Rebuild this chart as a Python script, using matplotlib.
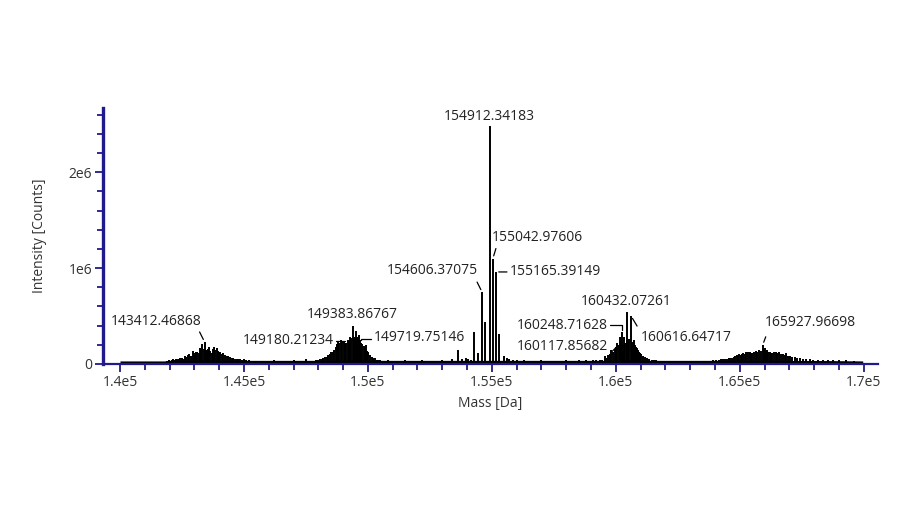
import numpy as np
import matplotlib
matplotlib.use("Agg")
import matplotlib.pyplot as plt
from matplotlib.ticker import MultipleLocator, FuncFormatter

plt.rcParams['font.family'] = ['Open Sans', 'DejaVu Sans']

# deconvoluted mass spectrum, sticks (Da, counts in 1e6)
c1_mass = [141900, 141960, 142020, 142080, 142140, 142200, 142260, 142320, 142380,
           142440, 142500, 142560, 142620, 142680, 142740, 142800, 142860, 142930,
           142980, 143020, 143070, 143120, 143170, 143230, 143280, 143320, 143370,
           143412, 143460, 143500, 143550, 143600, 143650, 143700, 143750, 143790,
           143840, 143900, 143950, 144000, 144050, 144100, 144160, 144230, 144300,
           144370, 144430, 144500, 144570, 144640, 144700, 144780, 144850, 144920,
           145000, 145100, 145200, 145300, 145400]
c1_int = [.035, .045, .03, .04, .05, .045, .05, .055, .05,
          .06, .065, .055, .08, .07, .09, .10, .08, .14,
          .11, .09, .12, .13, .11, .17, .15, .21, .16,
          .23, .15, .14, .16, .18, .14, .11, .16, .18,
          .15, .17, .14, .13, .12, .10, .11, .09, .085,
          .08, .075, .06, .065, .055, .05, .055, .05, .045,
          .05, .04, .04, .035, .035]

c2_mass = [146200, 147000, 147500,
           147700, 147800, 147900, 148000, 148065, 148130, 148200, 148270, 148330,
           148400, 148470, 148530, 148600, 148650, 148710, 148760, 148800, 148850,
           148900, 148960, 149030, 149070, 149110, 149180, 149230, 149270, 149320,
           149383, 149420, 149460, 149520, 149560, 149600, 149650, 149690, 149719,
           149780, 149840, 149880, 149920, 149970, 150010, 150080, 150150, 150220,
           150280, 150350, 150420]
c2_int = [.04, .045, .05,
          .035, .035, .04, .045, .05, .055, .06, .07, .075,
          .09, .10, .12, .13, .15, .18, .21, .23, .22,
          .25, .23, .24, .22, .22, .25, .24, .28, .27,
          .40, .26, .28, .34, .27, .28, .30, .25, .22,
          .21, .19, .17, .20, .14, .12, .09, .07, .065,
          .06, .045, .04]

c3_mass = [150500, 150800, 151500, 152200, 153000, 153400, 153641, 153800, 153950,
           154050, 154150,
           154286, 154423, 154606, 154740, 154912, 155042, 155165, 155282, 155484,
           155600, 155700, 155850, 156000, 156300, 157000, 158000, 158500, 158800]
c3_int = [.045, .04, .045, .04, .045, .05, .15, .05, .06,
          .05, .045,
          .33, .11, .75, .44, 2.48, 1.10, .96, .31, .08,
          .06, .05, .045, .045, .04, .04, .04, .045, .045]

c4_mass = [159080, 159200, 159355, 159450, 159556, 159620, 159690, 159760, 159825,
           159890, 159960, 160010, 160050, 160117, 160160, 160200, 160248, 160295,
           160350, 160390, 160432, 160470, 160500, 160545, 160616, 160660, 160700,
           160730, 160770, 160810, 160850, 160890, 160930, 160970, 161030, 161100,
           161170, 161240, 161340, 161440, 161540, 161640]
c4_int = [.04, .04, .045, .045, .08, .06, .09, .10, .15,
          .13, .16, .18, .22, .20, .28, .24, .33, .20,
          .28, .22, .545, .24, .22, .26, .50, .20, .23,
          .25, .20, .18, .17, .15, .13, .11, .10, .08,
          .07, .06, .05, .045, .045, .04]

c5_mass = [163800, 163920, 164050, 164150, 164250, 164320, 164400, 164480, 164550,
           164600, 164680, 164750, 164800, 164870, 164920, 164970, 165030, 165080,
           165130, 165200, 165270, 165330, 165400, 165450, 165510, 165580, 165650,
           165710, 165780, 165850, 165927, 165970, 166010, 166060, 166100, 166150,
           166210, 166260, 166320, 166380, 166450, 166520, 166590, 166660, 166750,
           166810, 166880, 166950, 167040, 167120, 167220, 167320, 167420, 167550,
           167690, 167820, 167960, 168150, 168370, 168550, 168770, 169000, 169300,
           169600]
c5_int = [.035, .04, .045, .045, .05, .05, .055, .05, .06,
          .06, .065, .07, .08, .09, .085, .10, .095, .10,
          .11, .10, .13, .12, .13, .11, .11, .12, .14,
          .12, .15, .14, .20, .16, .17, .14, .15, .12,
          .13, .11, .11, .12, .13, .11, .12, .10, .10,
          .09, .11, .085, .08, .075, .07, .065, .06, .055,
          .05, .05, .045, .045, .045, .04, .04, .04, .04,
          .035]

# noise floor under the sticks
noise_mass = [140000, 141800, 142000, 145500, 147700, 150300, 153500, 155300,
              159000, 161700, 163900, 168500, 169960]
noise_level = [.032, .032, .038, .038, .038, .038, .038, .038,
               .038, .038, .038, .036, .032]

# peak labels
labels = [
    "154912.34183", "155042.97606", "155165.39149", "154606.37075",
    "149719.75146", "149383.86767", "149180.21234", "143412.46868",
    "160432.07261", "160248.71628", "160117.85682", "160616.64717",
    "165927.96698",
]

mass = np.array(c1_mass + c2_mass + c3_mass + c4_mass + c5_mass, dtype=float)
intensity = np.array(c1_int + c2_int + c3_int + c4_int + c5_int) * 1e6

navy = '#201a8c'

fig = plt.figure(figsize=(9.19, 5.18), dpi=100)
ax = fig.add_axes([0.1121, 0.2973, 0.8433, 0.4942])

ax.fill_between(noise_mass, 0, np.array(noise_level) * 1e6, color='black', lw=0)
ax.vlines(mass, 0, intensity, color='black', lw=1.4)

ax.set_xlim(139315, 170577)
ax.set_ylim(0, 2.67e6)

for s in ['top', 'right']:
    ax.spines[s].set_visible(False)
ax.spines['left'].set_color(navy)
ax.spines['left'].set_linewidth(2.4)
ax.spines['bottom'].set_color(navy)
ax.spines['bottom'].set_linewidth(1.6)

ax.xaxis.set_major_locator(MultipleLocator(5000))
ax.xaxis.set_minor_locator(MultipleLocator(1000))
ax.yaxis.set_major_locator(MultipleLocator(1e6))
ax.yaxis.set_minor_locator(MultipleLocator(2e5))


def sci(v, pos):
    if v == 0:
        return "0"
    e = int(np.floor(np.log10(abs(v))))
    m = v / 10**e
    return f"{m:g}e{e}"


ax.xaxis.set_major_formatter(FuncFormatter(sci))
ax.yaxis.set_major_formatter(FuncFormatter(sci))
ax.tick_params(which='both', color=navy, width=1.3, labelcolor='#333333',
               labelsize=10, direction='out')
ax.tick_params(which='major', length=6, pad=2)
ax.tick_params(which='minor', length=4)

ax.set_xlabel("Mass [Da]", fontsize=10, color='#333333', labelpad=4)
ax.set_ylabel("Intensity [Counts]", fontsize=10, color='#333333', labelpad=15)

# label placement in pixels relative to the peak top:
# text offset, alignment, leader end offset, leader style
place = {
    "154912.34183": ((0, 10), 'center', None, None),
    "155042.97606": ((-1, 21), 'left', (3, 10), None),
    "155165.39149": ((14, 0), 'left', (11, 0), None),
    "154606.37075": ((-4, 22), 'right', (-5, 10), None),
    "149719.75146": ((13, 5), 'left', (10, 4), 'angle,angleA=0,angleB=90,rad=0'),
    "149383.86767": ((0, 11), 'center', None, None),
    "149180.21234": ((-14, 0), 'right', (-12, -1), 'angle,angleA=0,angleB=90,rad=0'),
    "143412.46868": ((-3, 20), 'right', (-5, 10), None),
    "160432.07261": ((0, 10), 'center', None, None),
    "160248.71628": ((-14, 7), 'right', (-12, 7), 'angle,angleA=0,angleB=90,rad=0'),
    "160117.85682": ((-11, -2), 'right', (-7, -7), None),
    "160616.64717": ((10, -21), 'left', (6, -10), None),
    "165927.96698": ((2, 22), 'left', (3, 8), None),
}

for lab in labels:
    i = int(np.argmin(np.abs(mass - float(lab))))
    h = intensity[i]
    toff, ha, loff, cs = place[lab]
    if loff is not None:
        ax.annotate('', xy=(mass[i], h), xytext=loff, textcoords='offset pixels',
                    arrowprops=dict(arrowstyle='-', color='black', lw=0.9,
                                    shrinkA=0, shrinkB=2,
                                    connectionstyle=cs or 'arc3'))
    ax.annotate(lab, xy=(mass[i], h), xytext=toff, textcoords='offset pixels',
                ha=ha, va='center', fontsize=10, color='#222222')

fig.savefig("out.png", dpi=100)
